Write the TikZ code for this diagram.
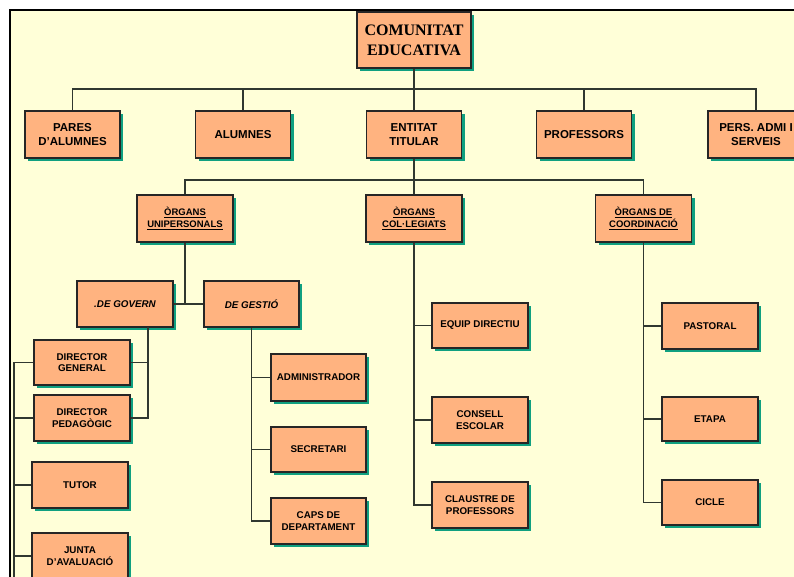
\documentclass[tikz,border=0pt]{standalone}
\usepackage{fontspec}
\setmainfont{Liberation Sans}
\newfontfamily\rootfont{Liberation Serif}
\usetikzlibrary{shadows}
\definecolor{bgc}{HTML}{FFFFD8}
\definecolor{boxc}{HTML}{FFB380}
\definecolor{shadc}{HTML}{10A080}
\definecolor{linec}{HTML}{303830}
\tikzset{
  orgbox/.style={draw=black!85, line width=1.2pt, fill=boxc, align=center, inner sep=1pt,
    drop shadow={shadow xshift=3pt, shadow yshift=-3pt, fill=shadc, opacity=1}},
  lvone/.style={orgbox, minimum width=95pt, minimum height=47pt, font=\fontsize{11.5}{14}\selectfont\bfseries},
  lvtwo/.style={orgbox, minimum width=96pt, minimum height=47pt, font=\fontsize{9.5}{12.5}\selectfont\bfseries},
  lvlow/.style={orgbox, minimum width=96pt, minimum height=46pt, font=\fontsize{9.8}{11.5}\selectfont\bfseries},
  conn/.style={draw=linec, line width=1.4pt}
}
\begin{document}
\begin{tikzpicture}[x=1pt,y=-1pt]
\useasboundingbox (0,0) rectangle (794,576);
\clip (0,0) rectangle (794,576);
\fill[white] (0,0) rectangle (794,576);
\fill[bgc] (10,10) rectangle (800,580);
\draw[line width=1.5pt] (10,580) -- (10,10) -- (800,10);

% nodes
\node[orgbox, line width=2.5pt, minimum width=114pt, minimum height=56pt,
  font=\rootfont\fontsize{16}{20}\selectfont\bfseries] (root) at (414,40) {COMUNITAT\\EDUCATIVA};

\node[lvone] (pares) at (72.5,134.5) {PARES\\D'ALUMNES};
\node[lvone] (alumnes) at (243,134.5) {ALUMNES};
\node[lvone] (entitat) at (414,134.5) {ENTITAT\\TITULAR};
\node[lvone] (professors) at (584,134.5) {PROFESSORS};
\node[lvone, minimum width=96pt] (pers) at (756,134.5) {PERS. ADMI I\\SERVEIS};

\node[lvtwo] (unip) at (185,218.5) {\underline{ÒRGANS}\\\underline{UNIPERSONALS}};
\node[lvtwo] (coleg) at (414,218.5) {\underline{ÒRGANS}\\\underline{COL·LEGIATS}};
\node[lvtwo] (coord) at (643.5,218.5) {\underline{ÒRGANS DE}\\\underline{COORDINACIÓ}};

\node[lvlow, font=\fontsize{9.8}{11.5}\selectfont\bfseries\itshape] (govern) at (125,304) {.DE GOVERN};
\node[lvlow, minimum width=95pt, font=\fontsize{9.8}{11.5}\selectfont\bfseries\itshape] (gestio) at (251.5,304) {DE GESTIÓ};

\node[lvlow, minimum height=45pt] (dirgen) at (82,362.5) {DIRECTOR\\GENERAL};
\node[lvlow] (dirped) at (82,418) {DIRECTOR\\PEDAGÒGIC};
\node[lvlow] (tutor) at (80,485) {TUTOR};
\node[lvlow] (junta) at (80,556) {JUNTA\\D'AVALUACIÓ};

\node[lvlow, minimum width=95pt, minimum height=47pt] (admin) at (318.5,377.5) {ADMINISTRADOR};
\node[lvlow, minimum width=95pt, minimum height=45pt] (secret) at (318.5,449.5) {SECRETARI};
\node[lvlow, minimum width=95pt] (caps) at (318.5,521) {CAPS DE\\DEPARTAMENT};

\node[lvlow, minimum height=45pt] (equip) at (480,325.5) {EQUIP DIRECTIU};
\node[lvlow] (consell) at (480,420) {CONSELL\\ESCOLAR};
\node[lvlow] (claustre) at (480,505) {CLAUSTRE DE\\PROFESSORS};

\node[lvlow] (pastoral) at (710,326) {PASTORAL};
\node[lvlow, minimum height=44pt] (etapa) at (710,419) {ETAPA};
\node[lvlow, minimum height=45pt] (cicle) at (710,502.5) {CICLE};

% bus coordinates
\coordinate (busa) at (414,89);
\coordinate (busb) at (414,180);
\coordinate (gv) at (148,327);
\coordinate (lb) at (14,580);

% connectors
\draw[conn] (root) -- (entitat);
\draw[conn] (pares.north) |- (busa) -| (pers.north);
\draw[conn] (alumnes.north) -- (alumnes.north |- busa);
\draw[conn] (professors.north) -- (professors.north |- busa);

\draw[conn] (entitat) -- (coleg);
\draw[conn] (unip.north) |- (busb) -| (coord.north);

\draw[conn] (unip.south) -- (unip.south |- govern.east);
\draw[conn] (govern.east) -- (gestio.west);

\draw[conn] (gv) |- (dirped.east);
\draw[conn] (dirgen.east) -- (dirgen.east -| gv);

\draw[conn] (dirgen.west) -| (lb);
\draw[conn] (dirped.west) -- (dirped.west -| lb);
\draw[conn] (tutor.west) -- (tutor.west -| lb);
\draw[conn] (junta.west) -- (junta.west -| lb);

\draw[conn] (gestio.south) |- (caps.west);
\draw[conn] (admin.west) -- (admin.west -| gestio.south);
\draw[conn] (secret.west) -- (secret.west -| gestio.south);

\draw[conn] (coleg.south) |- (claustre.west);
\draw[conn] (equip.west) -- (equip.west -| coleg.south);
\draw[conn] (consell.west) -- (consell.west -| coleg.south);

\draw[conn] (coord.south) |- (cicle.west);
\draw[conn] (pastoral.west) -- (pastoral.west -| coord.south);
\draw[conn] (etapa.west) -- (etapa.west -| coord.south);
\end{tikzpicture}
\end{document}
